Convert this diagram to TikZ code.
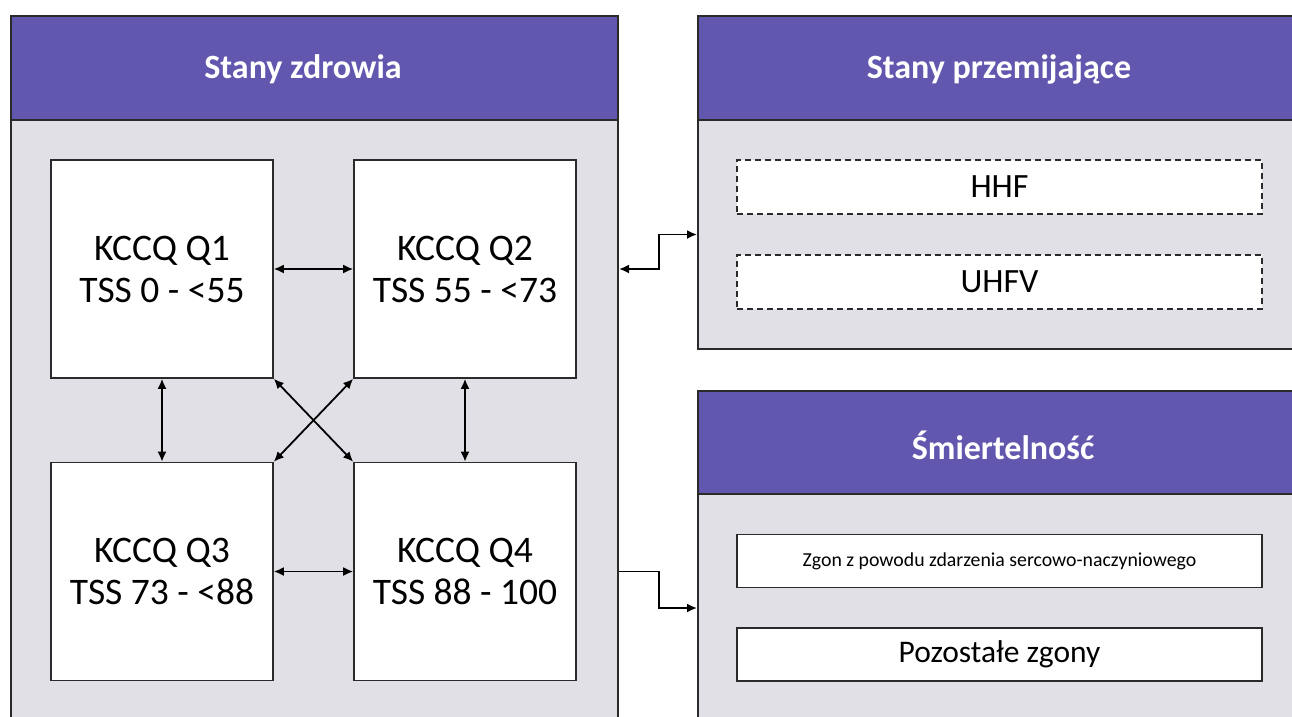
\documentclass[tikz,border=0pt]{standalone}
\usepackage{fontspec}
\setmainfont{Carlito}
\usetikzlibrary{arrows.meta,calc}
\definecolor{hdr}{HTML}{6157AE}
\definecolor{bodyg}{HTML}{E1E0E7}
\definecolor{edge}{HTML}{2A2A2A}
\tikzset{
  panelbody/.style={draw=edge,line width=2pt,fill=bodyg,anchor=north west,inner sep=0pt},
  panelhead/.style={draw=edge,line width=2pt,fill=hdr,anchor=north west,inner sep=0pt},
  htext/.style={text=white,font=\bfseries\fontsize{34}{40}\selectfont},
  qbox/.style={draw=edge,line width=1.6pt,fill=white,minimum width=222pt,minimum height=218pt,inner sep=0pt,align=center,font=\fontsize{37.5}{42}\selectfont},
  dbox/.style={draw=edge,line width=1.6pt,dash pattern=on 6pt off 4pt,fill=white,minimum width=525pt,minimum height=54pt,inner sep=0pt,font=\fontsize{34}{40}\selectfont},
  sbox/.style={draw=edge,line width=1.6pt,fill=white,minimum width=525pt,minimum height=53pt,inner sep=0pt},
  conn/.style={line width=1.8pt,draw=black,{Latex[length=10pt,width=9pt]}-{Latex[length=10pt,width=9pt]}},
  conn1/.style={line width=1.8pt,draw=black,-{Latex[length=10pt,width=9pt]}}
}
\begin{document}
\begin{tikzpicture}[x=1pt,y=-1pt]
\useasboundingbox (0,0) rectangle (1292,716);
\clip (0,0) rectangle (1292,716);
\fill[white] (0,0) rectangle (1292,716);
% left panel
\node[panelbody,minimum width=607pt,minimum height=620pt] (lpb) at (10,119) {};
\node[panelhead,minimum width=607pt,minimum height=104pt] (lph) at (10,15) {};
\node[htext] (lpt) at (303,69) {Stany zdrowia};
% top right panel
\node[panelbody,minimum width=620pt,minimum height=229pt] (tpb) at (697,119) {};
\node[panelhead,minimum width=620pt,minimum height=104pt] (tph) at (697,15) {};
\node[htext] (tpt) at (999,69) {Stany przemijające};
% bottom right panel
\node[panelbody,minimum width=620pt,minimum height=230pt] (bpb) at (697,493) {};
\node[panelhead,minimum width=620pt,minimum height=103pt] (bph) at (697,390) {};
\node[htext] (bpt) at (1003,445) {Śmiertelność};
% quartile boxes
\node[qbox] (q1) at (162,269) {KCCQ Q1\\TSS 0 - <55};
\node[qbox] (q2) at (465,269) {KCCQ Q2\\TSS 55 - <73};
\node[qbox] (q3) at (162,571.5) {KCCQ Q3\\TSS 73 - <88};
\node[qbox] (q4) at (465,571.5) {KCCQ Q4\\TSS 88 - 100};
% transient states
\node[dbox] (hhf) at (999.5,187) {HHF};
\node[dbox] (uhfv) at (999.5,282) {UHFV};
% mortality
\node[sbox,font=\fontsize{19.8}{24}\selectfont] (cv) at (999.5,561) {Zgon z powodu zdarzenia sercowo-naczyniowego};
\node[sbox,font=\fontsize{31.5}{36}\selectfont] (oth) at (999.5,654.5) {Pozostałe zgony};
% connectors between quartiles
\draw[conn] (q1) -- (q2);
\draw[conn] (q3) -- (q4);
\draw[conn] (q1) -- (q3);
\draw[conn] (q2) -- (q4);
\draw[conn] (q1.south east) -- (q4.north west);
\draw[conn] (q2.south west) -- (q3.north east);
% panel connectors
\draw[conn] (lpb.east |- q2.east) -- ++(40,0) |- (tpb.west);
\coordinate (bin) at (697,608);
\draw[conn1] (lpb.east |- q4.east) -- ++(40,0) |- (bin);
\end{tikzpicture}
\end{document}
